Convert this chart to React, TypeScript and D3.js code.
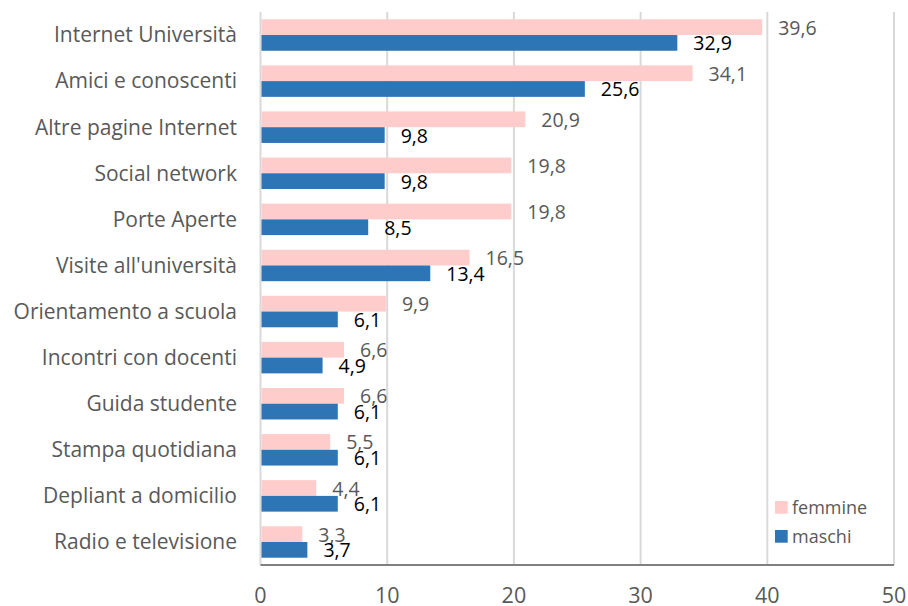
import React from "react";
import * as d3 from "d3";

const categories = [
  "Internet Università",
  "Amici e conoscenti",
  "Altre pagine Internet",
  "Social network",
  "Porte Aperte",
  "Visite all'università",
  "Orientamento a scuola",
  "Incontri con docenti",
  "Guida studente",
  "Stampa quotidiana",
  "Depliant a domicilio",
  "Radio e televisione",
];
const femmine = [39.6, 34.1, 20.9, 19.8, 19.8, 16.5, 9.9, 6.6, 6.6, 5.5, 4.4, 3.3];
const maschi = [32.9, 25.6, 9.8, 9.8, 8.5, 13.4, 6.1, 4.9, 6.1, 6.1, 6.1, 3.7];
const series = ["femmine", "maschi"];
const xTicks = [0, 10, 20, 30, 40, 50];

const colors: Record<string, string> = { femmine: "#FFCCCC", maschi: "#2E75B6" };
const labelColors: Record<string, string> = { femmine: "#595959", maschi: "#000000" };

const W = 908;
const H = 606;
const FONT = "'Open Sans', sans-serif";

export default function App() {
  const x = d3.scaleLinear().domain([0, 50]).range([260.5, 894]);
  const y = d3
    .scaleBand<string>()
    .domain(categories)
    .range([12, 565])
    .paddingInner(0.317)
    .paddingOuter(0.158);
  const inner = d3.scaleBand<string>().domain(series).range([0, y.bandwidth()]);
  const values: Record<string, number[]> = { femmine, maschi };
  const fmt = (v: number) => d3.format(".1f")(v).replace(".", ",");

  return (
    <svg width={W} height={H} style={{ position: "absolute", left: 0, top: 0, background: "#fff" }}>
      {xTicks.map((t) => (
        <line key={"g" + t} x1={x(t)} x2={x(t)} y1={12} y2={565} stroke="#D9D9D9" strokeWidth={2} />
      ))}
      {categories.map((c, i) => (
        <g key={c}>
          {series.map((s) => {
            const v = values[s][i];
            const yy = (y(c) as number) + (inner(s) as number);
            return (
              <g key={s}>
                <rect x={x(0) + 1} y={yy} width={x(v) - x(0) - 1} height={inner.bandwidth()} fill={colors[s]} />
                <text
                  x={x(v) + 16}
                  y={yy + inner.bandwidth() / 2 + 0.5}
                  dy="0.36em"
                  fontFamily={FONT}
                  fontSize={19.5}
                  fill={labelColors[s]}
                >
                  {fmt(v)}
                </text>
              </g>
            );
          })}
          <text
            x={237}
            y={(y(c) as number) + y.bandwidth() / 2}
            dy="0.35em"
            textAnchor="end"
            fontFamily={FONT}
            fontSize={21}
            fill="#595959"
          >
            {c}
          </text>
        </g>
      ))}
      <line x1={x(0)} x2={x(50)} y1={565} y2={565} stroke="#808080" strokeWidth={2} />
      {xTicks.map((t) => (
        <text key={"t" + t} x={x(t)} y={603} textAnchor="middle" fontFamily={FONT} fontSize={21.5} fill="#595959">
          {t}
        </text>
      ))}
      {series.map((s, i) => (
        <g key={"l" + s} transform={`translate(775, ${501 + i * 29})`}>
          <rect x={0} y={0} width={12.7} height={12.7} fill={colors[s]} />
          <text x={17} y={6.5} dy="0.35em" fontFamily={FONT} fontSize={18} fill="#595959">
            {s}
          </text>
        </g>
      ))}
    </svg>
  );
}
